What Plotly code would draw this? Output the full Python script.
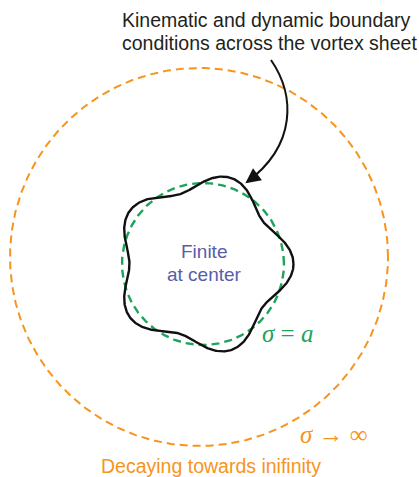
import numpy as np
import plotly.graph_objects as go

# ---- diagram geometry (pixel-like data coordinates, y downward) ----
OUTER_CIRCLE = {"cx": 199, "cy": 257, "r": 189}          # sigma -> infinity
INNER_CIRCLE = {"cx": 203, "cy": 264, "r": 81}           # sigma = a
SHEET = {"cx": 203, "cy": 264, "r": 82, "amp": 8.5, "lobes": 5}  # perturbed vortex sheet
ARROW_PATH = [(271, 60), (295, 95), (297, 145), (247, 182)]  # cubic bezier control points

# ---- labels ----
TOP_LINES = ["Kinematic and dynamic boundary", "conditions across the vortex sheet"]
CENTER_LINES = ["Finite", "at center"]
INNER_LABEL = "<i>σ</i> = <i>a</i>"
OUTER_LABEL = "<i>σ</i> → ∞"
BOTTOM_LABEL = "Decaying towards inifinity"

ORANGE = "#f7941d"
GREEN = "#1fa35c"
BLUE = "#5a5ca8"
DARK = "#231f20"

theta = np.linspace(0, 2 * np.pi, 721)

def circle(c):
    return c["cx"] + c["r"] * np.cos(theta), c["cy"] - c["r"] * np.sin(theta)

fig = go.Figure()

ox, oy = circle(OUTER_CIRCLE)
fig.add_trace(go.Scatter(x=ox, y=oy, mode="lines",
                         line=dict(color=ORANGE, width=2, dash="8px,5px"), hoverinfo="skip"))

gx, gy = circle(INNER_CIRCLE)
fig.add_trace(go.Scatter(x=gx, y=gy, mode="lines",
                         line=dict(color=GREEN, width=2.4, dash="8px,5px"), hoverinfo="skip"))

rr = SHEET["r"] + SHEET["amp"] * np.cos(SHEET["lobes"] * theta)
sx = SHEET["cx"] + rr * np.cos(theta)
sy = SHEET["cy"] - rr * np.sin(theta)
fig.add_trace(go.Scatter(x=sx, y=sy, mode="lines",
                         line=dict(color="#111111", width=2.4), hoverinfo="skip"))

(p0, p1, p2, p3) = ARROW_PATH
fig.add_shape(type="path", xref="x", yref="y",
              path=f"M {p0[0]},{p0[1]} C {p1[0]},{p1[1]} {p2[0]},{p2[1]} {p3[0]},{p3[1]}",
              line=dict(color="#111111", width=2))
# arrow head along end tangent
tx, ty = p3[0] - p2[0], p3[1] - p2[1]
n = np.hypot(tx, ty)
tx, ty = tx / n, ty / n
fig.add_annotation(x=p3[0] + tx * 2, y=p3[1] + ty * 2, ax=p3[0] - tx * 8, ay=p3[1] - ty * 8,
                   xref="x", yref="y", axref="x", ayref="y", text="", showarrow=True,
                   arrowhead=2, arrowsize=1.5, arrowwidth=2, arrowcolor="#111111")

SANS = "Liberation Sans, Arial, sans-serif"
SERIF = "Liberation Serif, DejaVu Serif, serif"

for txt, yy in zip(TOP_LINES, [19.5, 43]):
    fig.add_annotation(x=120, y=yy, text=txt, showarrow=False, xanchor="left", yanchor="middle",
                       font=dict(family=SANS, size=19.5, color=DARK))
for txt, yy in zip(CENTER_LINES, [251, 274.5]):
    fig.add_annotation(x=204, y=yy, text=txt, showarrow=False, xanchor="center", yanchor="middle",
                       font=dict(family=SANS, size=19, color=BLUE))
fig.add_annotation(x=260, y=333, text=INNER_LABEL, showarrow=False, xanchor="left", yanchor="middle",
                   font=dict(family=SERIF, size=25, color=GREEN))
fig.add_annotation(x=298, y=434, text=OUTER_LABEL, showarrow=False, xanchor="left", yanchor="middle",
                   font=dict(family=SERIF, size=25, color=ORANGE))
fig.add_annotation(x=99, y=466, text=BOTTOM_LABEL, showarrow=False, xanchor="left", yanchor="middle",
                   font=dict(family=SANS, size=19.5, color=ORANGE))

fig.update_layout(width=419, height=477, margin=dict(l=0, r=0, t=0, b=0),
                  paper_bgcolor="white", plot_bgcolor="white", showlegend=False)
fig.update_xaxes(range=[0, 419], visible=False, fixedrange=True)
fig.update_yaxes(range=[477, 0], visible=False, fixedrange=True)

fig.write_html("out.html", config={"displayModeBar": False},
               post_script="document.body.style.margin='0';document.body.style.overflow='hidden';")
